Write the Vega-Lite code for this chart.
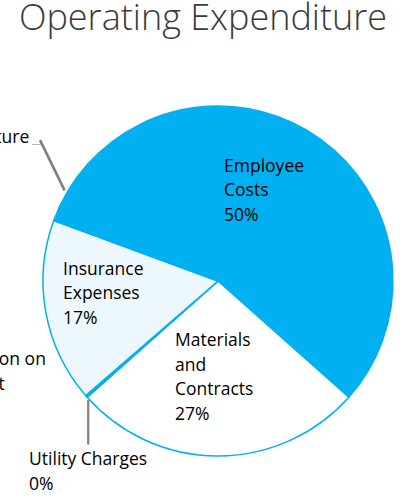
{
  "$schema": "https://vega.github.io/schema/vega-lite/v6.json",
  "autosize": "none",
  "width": 350,
  "height": 350,
  "padding": {"left": 43, "top": 106, "right": 7, "bottom": 40},
  "background": "white",
  "title": {
    "text": "Operating Expenditure",
    "font": "Open Sans",
    "fontWeight": 300,
    "fontSize": 36,
    "color": "#3a3a3a",
    "anchor": "middle",
    "frame": "group",
    "baseline": "alphabetic",
    "offset": -2.5,
    "dx": -15
  },
  "data": {
    "values": [
      {"category": "Employee Costs", "value": 50, "ord": 1, "label": "Employee\nCosts\n50%"},
      {"category": "Materials and Contracts", "value": 26.9, "ord": 2, "label": "Materials\nand\nContracts\n27%"},
      {"category": "Utility Charges", "value": 0.1, "ord": 3, "label": "Utility Charges\n0%"},
      {"category": "Depreciation on Equipment", "value": 0.1, "ord": 4, "label": "Depreciation on\nEquipment\n0%"},
      {"category": "Insurance Expenses", "value": 17, "ord": 5, "label": "Insurance\nExpenses\n17%"},
      {"category": "Capital Expenditure", "value": 6, "ord": 6, "label": "Capital\nExpenditure\n6%"}
    ]
  },
  "encoding": {
    "theta": {"field": "value", "type": "quantitative", "stack": true, "scale": {"range": [5.4419, 11.7251]}},
    "order": {"field": "ord", "type": "quantitative"}
  },
  "layer": [
    {
      "mark": {"type": "arc", "radius": 175, "stroke": "#00B0F0", "strokeWidth": 1.5},
      "encoding": {
        "fill": {
          "field": "category",
          "type": "nominal",
          "scale": {
            "domain": ["Employee Costs", "Materials and Contracts", "Utility Charges", "Depreciation on Equipment", "Insurance Expenses", "Capital Expenditure"],
            "range": ["#00B0F0", "#FFFFFF", "#00B0F0", "#00B0F0", "#EDF8FE", "#00B0F0"]
          },
          "legend": null
        }
      }
    },
    {
      "mark": {"type": "text", "radius": 100, "align": "left", "baseline": "alphabetic", "dx": -60.5, "dy": -34.4, "font": "Open Sans", "fontSize": 17.5, "lineHeight": 24.5, "lineBreak": "\n", "color": "#000000"},
      "encoding": {"text": {"condition": {"test": "datum.category === 'Employee Costs'", "field": "label", "type": "nominal"}, "value": ""}}
    },
    {
      "mark": {"type": "text", "radius": 100, "align": "left", "baseline": "alphabetic", "dx": -43, "dy": -35, "font": "Open Sans", "fontSize": 17.5, "lineHeight": 24.5, "lineBreak": "\n", "color": "#000000"},
      "encoding": {"text": {"condition": {"test": "datum.category === 'Materials and Contracts'", "field": "label", "type": "nominal"}, "value": ""}}
    },
    {
      "mark": {"type": "text", "radius": 100, "align": "left", "baseline": "alphabetic", "dx": -56.6, "dy": -24, "font": "Open Sans", "fontSize": 17.5, "lineHeight": 24.5, "lineBreak": "\n", "color": "#000000"},
      "encoding": {"text": {"condition": {"test": "datum.category === 'Insurance Expenses'", "field": "label", "type": "nominal"}, "value": ""}}
    },
    {
      "mark": {"type": "text", "radius": 175, "align": "left", "baseline": "alphabetic", "dx": -57.8, "dy": 68.2, "font": "Open Sans", "fontSize": 17.5, "lineHeight": 24.5, "lineBreak": "\n", "color": "#000000"},
      "encoding": {"text": {"condition": {"test": "datum.category === 'Utility Charges'", "field": "label", "type": "nominal"}, "value": ""}}
    },
    {
      "mark": {"type": "text", "radius": 175, "align": "left", "baseline": "alphabetic", "dx": -170.7, "dy": -31, "font": "Open Sans", "fontSize": 17.5, "lineHeight": 24.5, "lineBreak": "\n", "color": "#000000"},
      "encoding": {"text": {"condition": {"test": "datum.category === 'Depreciation on Equipment'", "field": "label", "type": "nominal"}, "value": ""}}
    },
    {
      "mark": {"type": "text", "radius": 175, "align": "left", "baseline": "alphabetic", "dx": -138, "dy": -72.4, "font": "Open Sans", "fontSize": 17.5, "lineHeight": 24.5, "lineBreak": "\n", "color": "#000000"},
      "encoding": {"text": {"condition": {"test": "datum.category === 'Capital Expenditure'", "field": "label", "type": "nominal"}, "value": ""}}
    },
    {
      "mark": {"type": "text", "radius": 175, "align": "center", "baseline": "middle", "dx": 1.2, "dy": 22.7, "font": "DejaVu Sans", "fontWeight": 200, "fontSize": 45, "color": "#808080"},
      "encoding": {"text": {"condition": {"test": "datum.category === 'Utility Charges'", "value": "|"}, "value": ""}}
    },
    {
      "mark": {"type": "text", "radius": 175, "align": "center", "baseline": "middle", "dx": -3, "dy": -32, "angle": 334, "font": "DejaVu Sans", "fontWeight": 200, "fontSize": 56, "color": "#808080"},
      "encoding": {"text": {"condition": {"test": "datum.category === 'Capital Expenditure'", "value": "|"}, "value": ""}}
    },
    {
      "mark": {"type": "text", "radius": 175, "align": "center", "baseline": "middle", "dx": -31, "dy": -47, "font": "DejaVu Sans", "fontWeight": 200, "fontSize": 11, "color": "#808080"},
      "encoding": {"text": {"condition": {"test": "datum.category === 'Capital Expenditure'", "value": "—"}, "value": ""}}
    }
  ]
}
